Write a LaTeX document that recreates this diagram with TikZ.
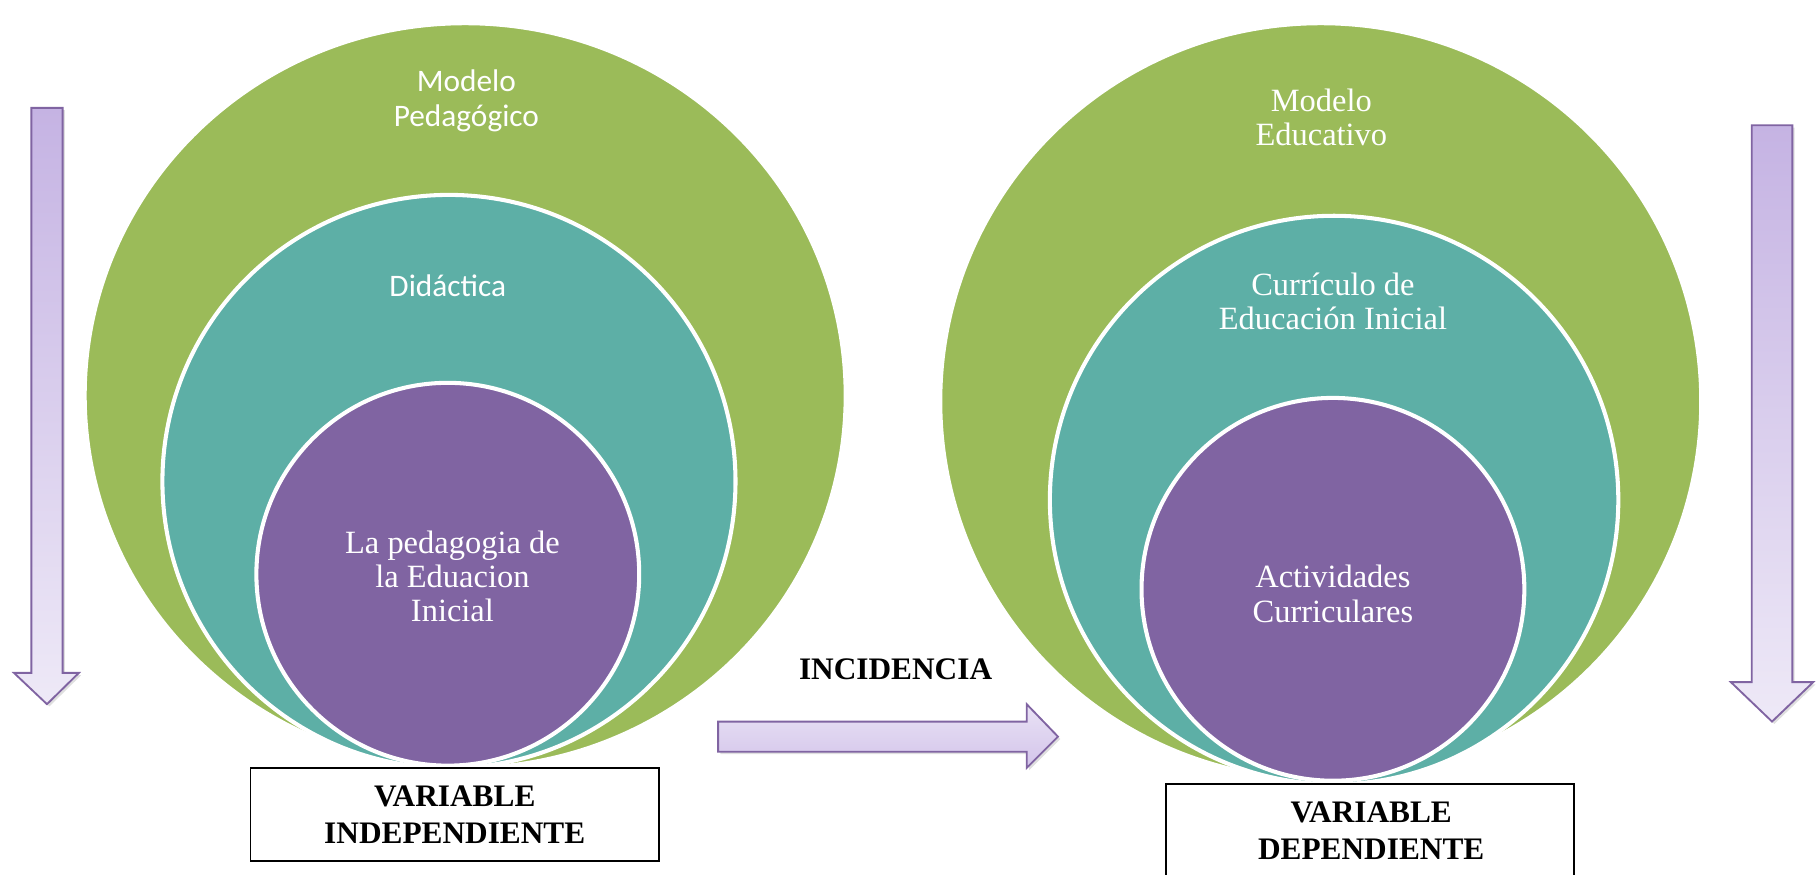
\documentclass[tikz,border=0pt]{standalone}
\usepackage{fontspec}
\setmainfont{Liberation Serif}
\newfontfamily\calib{Carlito}
\usetikzlibrary{shadows,shapes.geometric}
\definecolor{cgreen}{HTML}{9BBB59}
\definecolor{cteal}{HTML}{5DAFA6}
\definecolor{cpurple}{HTML}{8064A2}
\definecolor{arrtop}{HTML}{C5B3E3}
\definecolor{arrbot}{HTML}{EEE9F7}
\definecolor{harrtop}{HTML}{E9E2F5}
\definecolor{harrbot}{HTML}{D3C4EA}
\begin{document}
\begin{tikzpicture}[x=1pt,y=-1pt,
  ring/.style={circle, draw=white, line width=3.5pt, inner sep=0pt, minimum size=#1},
  oval/.style={ellipse, draw=white, line width=3.5pt, inner sep=0pt},
  sanslbl/.style={text=white, align=center, font=\calib\fontsize{27}{30}\selectfont},
  seriflbl/.style={text=white, align=center, font=\fontsize{28}{29.5}\selectfont},
  boldlbl/.style={align=center, font=\bfseries\fontsize{27}{31.6}\selectfont},
  varbox/.style={draw=black, line width=1.5pt, inner sep=0pt},
  bigarrow/.style={draw=cpurple, line width=1.6pt, line join=miter,
    drop shadow={opacity=0.25, shadow xshift=2pt, shadow yshift=-2pt}}]
\useasboundingbox (0,0) rectangle (1568,754);
% left target
\node[oval, fill=cgreen, minimum width=656, minimum height=642] (gL) at (401,341) {};
\node[ring=494, fill=cteal] (tL) at (387,415) {};
\node[ring=330, fill=cpurple] (pL) at (386,495) {};
\node[sanslbl] (gLt) at (402,87) {Modelo\\Pedagógico};
\node[sanslbl] (tLt) at (386,246) {Didáctica};
\node[seriflbl] (pLt) at (390,497) {La pedagogia de\\la Eduacion\\Inicial};
% right target
\node[oval, fill=cgreen, minimum width=656, minimum height=652] (gR) at (1138.5,346) {};
\node[ring=490, fill=cteal] (tR) at (1150,431) {};
\node[ring=330, fill=cpurple] (pR) at (1149,508) {};
\node[seriflbl] (gRt) at (1139,101) {Modelo\\Educativo};
\node[seriflbl] (tRt) at (1149,260) {Currículo de\\Educación Inicial};
\node[seriflbl] (pRt) at (1149,512) {Actividades\\Curriculares};
% boxes
\node[varbox, minimum width=352, minimum height=80] (bL) at (392,702) {};
\node[boldlbl] (bLt) at (392,702) {VARIABLE\\INDEPENDIENTE};
\node[varbox, minimum width=352, minimum height=140] (bR) at (1181,746) {};
\node[boldlbl] (bRt) at (1182,716) {VARIABLE\\DEPENDIENTE};
% incidencia
\node[boldlbl] (inc) at (772,577) {INCIDENCIA};
% arrows
\path[bigarrow, top color=arrtop, bottom color=arrbot]
  (27,93) -- (54,93) -- (54,580) -- (68,580) -- (40.5,607) -- (12,580) -- (27,580) -- cycle;
\path[bigarrow, top color=arrtop, bottom color=arrbot]
  (1510,108) -- (1545,108) -- (1545,588) -- (1563,588) -- (1527.5,622) -- (1492,588) -- (1510,588) -- cycle;
\path[bigarrow, top color=harrtop, bottom color=harrbot]
  (619,622) -- (885,622) -- (885,607) -- (912,635) -- (885,662) -- (885,648) -- (619,648) -- cycle;
\end{tikzpicture}
\end{document}
